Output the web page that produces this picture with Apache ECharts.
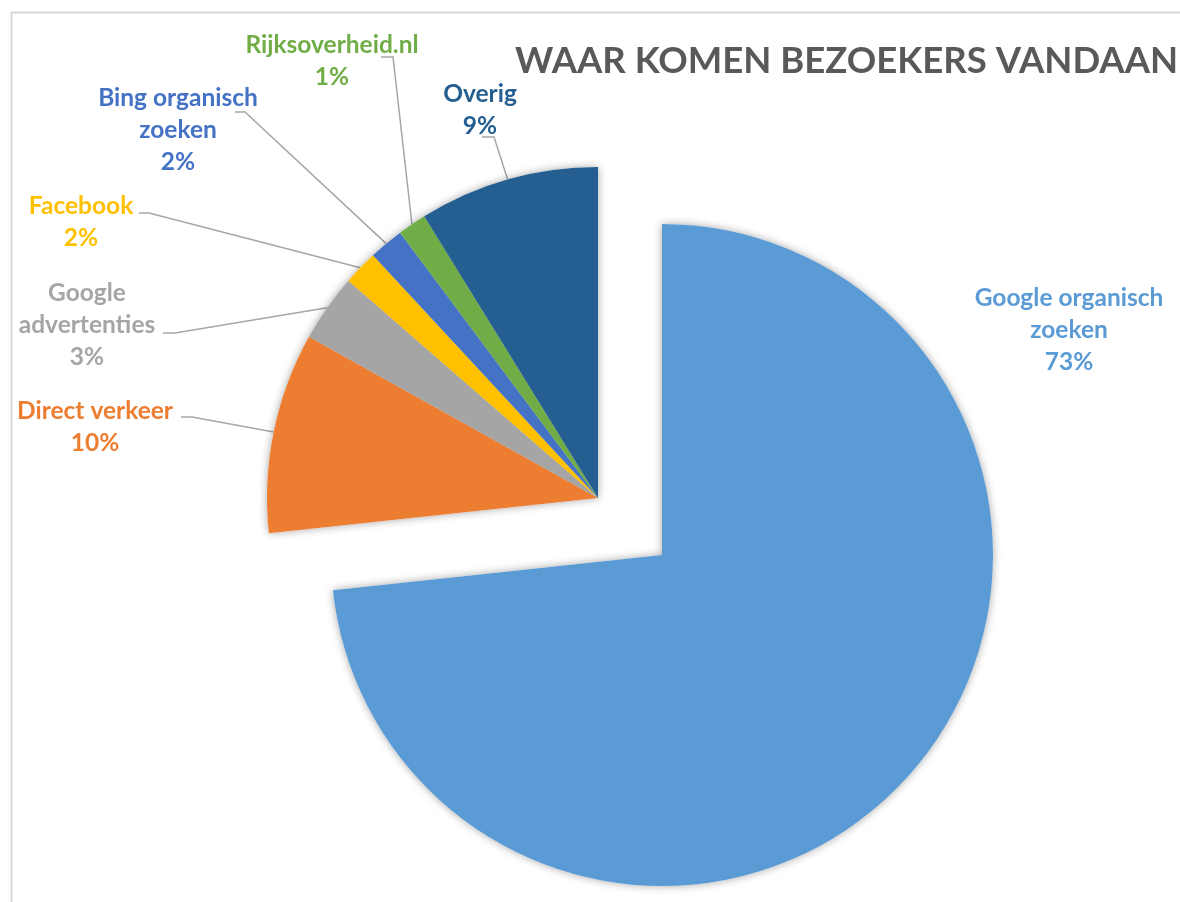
<!DOCTYPE html>
<html>
<head>
<meta charset="utf-8">
<script src="https://cdn.jsdelivr.net/npm/echarts@6/dist/echarts.min.js"></script>
<style>
  html, body { margin: 0; padding: 0; background: #fff; }
  #chart { width: 1180px; height: 902px; }
</style>
</head>
<body>
<div id="chart"></div>
<script>
// bronnen van bezoekers en hun aandeel (procent)
const categories = ['Google organisch zoeken', 'Direct verkeer', 'Google advertenties', 'Facebook', 'Bing organisch zoeken', 'Rijksoverheid.nl', 'Overig']
const shares = [73.3, 9.8, 3.3, 1.7, 1.7, 1.4, 8.8]
const colors = ['#5b9bd5', '#ed7d31', '#a5a5a5', '#ffc000', '#4472c4', '#70ad47', '#255e91']
const titleText = 'WAAR KOMEN BEZOEKERS VANDAAN'

// regelafbreking in de labels
const labelNames = {
  'Google organisch zoeken': 'Google organisch\nzoeken',
  'Google advertenties': 'Google\nadvertenties',
  'Bing organisch zoeken': 'Bing organisch\nzoeken'
}

// plaats van elk label (midden van het tekstblok) en het begin van de lijn
const labelPos = [
  { x: 1069, y: 330 },
  { x: 95, y: 427, lx1: 181, lx2: 192, ly: 417 },
  { x: 87, y: 325, lx1: 163, lx2: 175, ly: 333 },
  { x: 81, y: 222, lx1: 139, lx2: 149, ly: 213 },
  { x: 178, y: 130, lx1: 235, lx2: 245, ly: 112 },
  { x: 332, y: 61, lx1: 381, lx2: 393, ly: 57 },
  { x: 480, y: 110, lx1: 482, lx2: 494, ly: 137 }
]

const centerMain = [662, 555]   // uitgetrokken punt van Google organisch
const centerRest = [598, 498]   // de overige stukken
const radius = 331
const fontFamily = 'Lato, "Open Sans", sans-serif'

const chart = echarts.init(document.getElementById('chart'))

// data voor een laag: alleen het hoofdstuk of alleen de rest zichtbaar
const makeData = (main, colored) => categories.map((name, i) => {
  const visible = (i === 0) === main
  let itemStyle = { color: 'rgba(0,0,0,0)' }
  if (visible) {
    itemStyle = colored
      ? { color: colors[i] }
      : { color: '#fff', shadowBlur: 9, shadowColor: 'rgba(0,0,0,0.35)' }
  }
  return {
    name,
    value: shares[i],
    itemStyle,
    label: { show: visible && colored, color: colors[i] },
    labelLine: { show: visible && colored && i !== 0 }
  }
})

const labelLayout = (params) => {
  const p = labelPos[params.dataIndex]
  const out = { x: p.x, y: p.y, align: 'center', verticalAlign: 'middle' }
  if (p.lx1 != null && params.labelLinePoints) {
    const start = params.labelLinePoints[0]
    out.labelLinePoints = [start, [p.lx2, p.ly], [p.lx1, p.ly]]
  }
  return out
}

const makeSeries = (main, colored) => ({
  type: 'pie',
  center: main ? centerMain : centerRest,
  radius: radius,
  startAngle: 90,
  clockwise: true,
  silent: !colored,
  avoidLabelOverlap: false,
  emphasis: { disabled: true },
  data: makeData(main, colored),
  label: {
    fontFamily,
    fontSize: 24.5,
    fontWeight: 'bold',
    lineHeight: 32,
    formatter: (p) => (labelNames[p.name] || p.name) + '\n' + Math.round(p.percent) + '%'
  },
  labelLine: {
    lineStyle: { color: '#a6a6a6', width: 1.5 }
  },
  labelLayout: colored ? labelLayout : undefined
})

const option = {
  backgroundColor: '#fff',
  animation: false,
  title: {
    text: titleText,
    left: 515,
    top: 43,
    padding: 0,
    textStyle: {
      fontFamily,
      fontSize: 36.5,
      fontWeight: 'bold',
      color: '#595959'
    }
  },
  graphic: [{
    type: 'rect',
    left: 9,
    top: 10,
    shape: { width: 1300, height: 1000 },
    style: { fill: 'none', stroke: '#d9d9d9', lineWidth: 2 },
    silent: true
  }],
  series: [
    makeSeries(true, false),
    makeSeries(false, false),
    makeSeries(true, true),
    makeSeries(false, true)
  ]
}

chart.setOption(option)
window.addEventListener('resize', () => chart.resize())
</script>
</body>
</html>
